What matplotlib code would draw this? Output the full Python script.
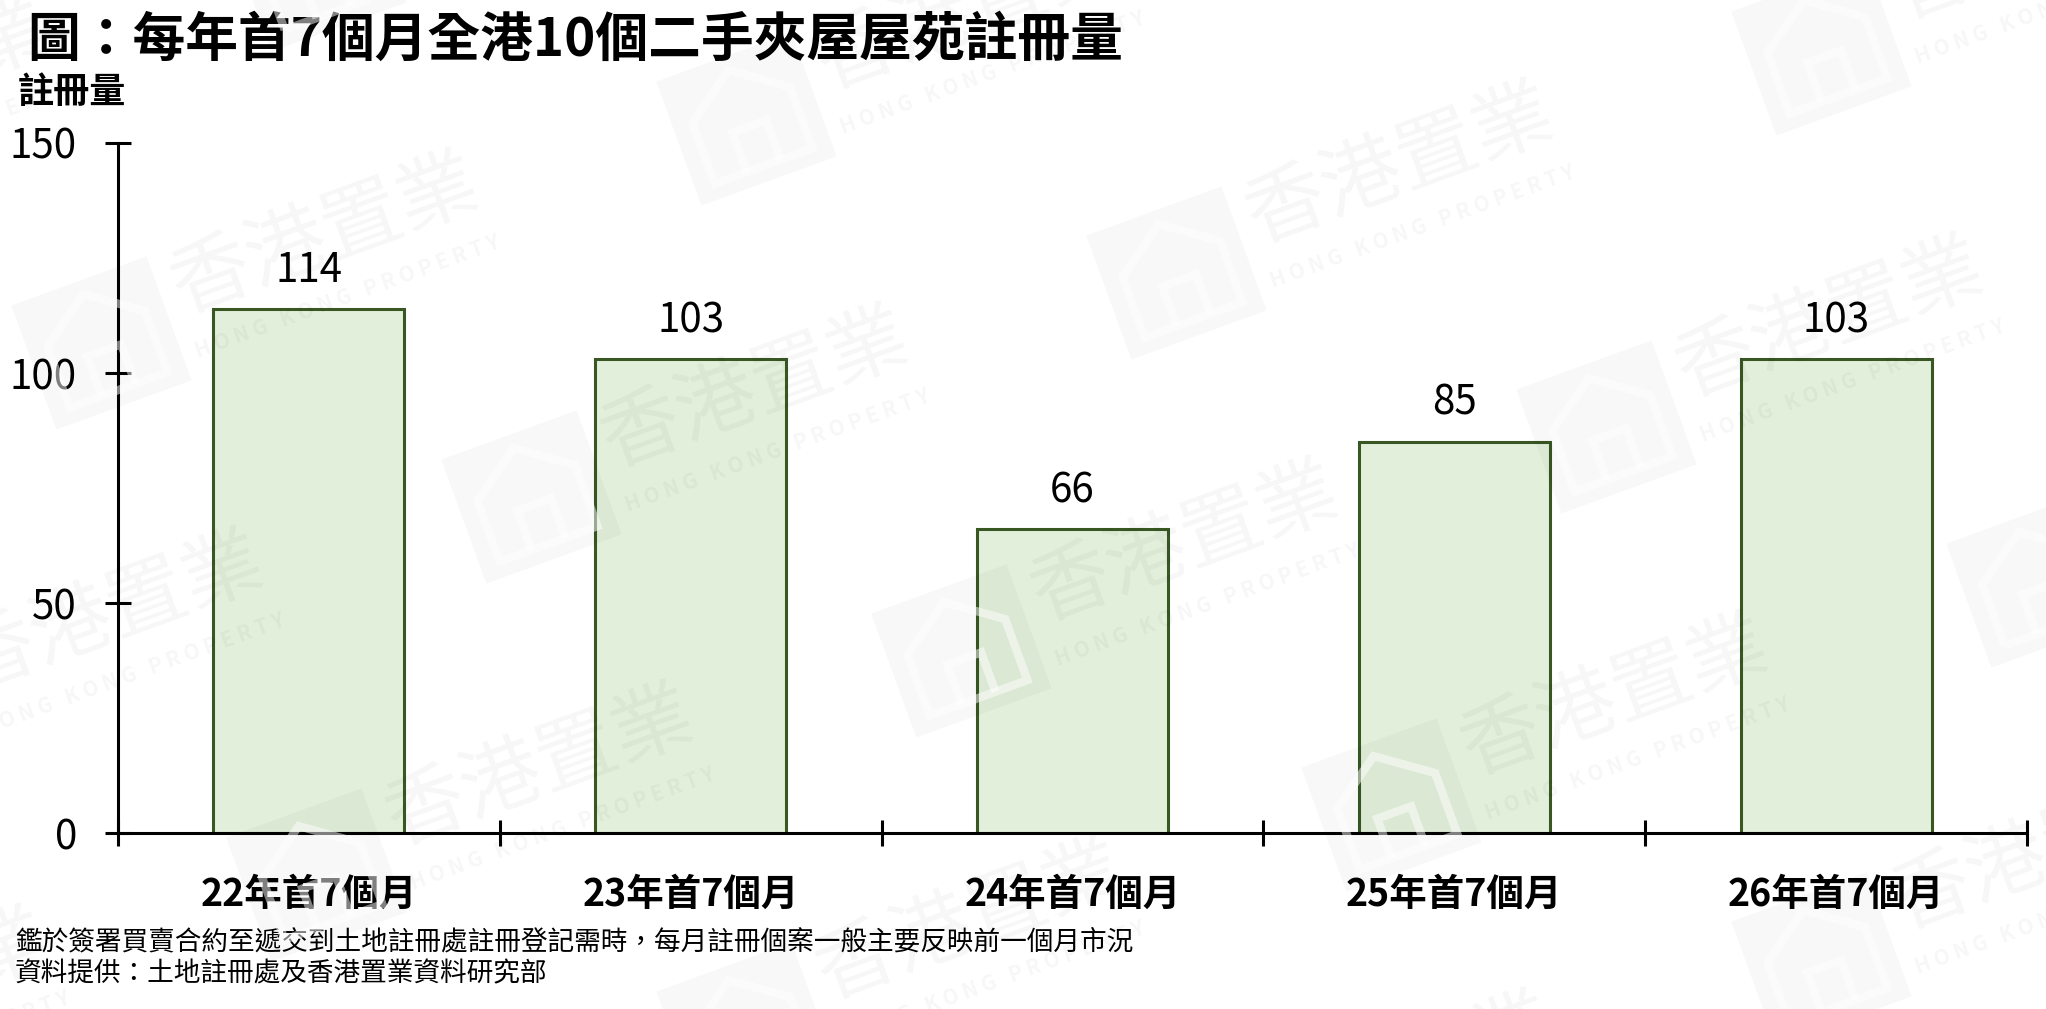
import numpy as np
import matplotlib.pyplot as plt
from matplotlib.patches import Polygon, Rectangle
from matplotlib.transforms import Affine2D

plt.rcParams['font.family'] = ['Noto Sans CJK TC', 'DejaVu Sans']

# 數據
categories = ['22年首7個月', '23年首7個月', '24年首7個月', '25年首7個月', '26年首7個月']
values = [114, 103, 66, 85, 103]
yticks = [0, 50, 100, 150]

title = '圖：每年首7個月全港10個二手夾屋屋苑註冊量'
ylabel = '註冊量'
note1 = '鑑於簽署買賣合約至遞交到土地註冊處註冊登記需時，每月註冊個案一般主要反映前一個月市況'
note2 = '資料提供：土地註冊處及香港置業資料研究部'

W, H = 2046, 1009
fig = plt.figure(figsize=(W / 100, H / 100), dpi=100)
ax = fig.add_axes([118 / W, 1 - 833 / H, (2027 - 118) / W, (833 - 143) / H])
ax.patch.set_alpha(0)

x = np.arange(len(categories))
bars = ax.bar(x, values, width=0.5, color='#E2EFDA', edgecolor='#385723', linewidth=2.2, zorder=2)
ax.bar_label(bars, padding=13, fontsize=29)

ax.set_xlim(-0.5, len(categories) - 0.5)
ax.set_ylim(0, 150)
ax.set_yticks(yticks)

# 類別分界刻度
ax.set_xticks(np.arange(-0.5, len(categories), 1))
ax.set_xticklabels([])
ax.set_xticks(x, minor=True)
ax.set_xticklabels(categories, minor=True, fontsize=27, fontweight='bold')
ax.tick_params(axis='x', which='major', direction='inout', length=19, width=2.2)
ax.tick_params(axis='x', which='minor', length=0, pad=30)
ax.tick_params(axis='y', direction='inout', length=19, width=2.2, pad=20, labelsize=29)

for s in ['top', 'right']:
    ax.spines[s].set_visible(False)
for s in ['left', 'bottom']:
    ax.spines[s].set_linewidth(2.2)

fig.text(27 / W, 1 - 40 / H, title, fontsize=38, fontweight='bold', va='center', ha='left')
fig.text(18 / W, 1 - 93 / H, ylabel, fontsize=26, fontweight='bold', va='center', ha='left')
fig.text(15 / W, 1 - 942 / H, note1, fontsize=19.2, va='center', ha='left')
fig.text(15 / W, 1 - 974 / H, note2, fontsize=19.2, va='center', ha='left')

# 水印
v1 = np.array([430, 154])
v2 = np.array([-215, 378])
anchor = np.array([1400, 165])
for i in range(-5, 6):
    for j in range(-3, 4):
        cx, cy = anchor + i * v1 + j * v2
        if cx < -400 or cx > W + 400 or cy < -250 or cy > H + 250:
            continue
        tr = Affine2D().rotate_deg(20).translate(cx, H - cy)
        fig.text(0, 0, '香港置業', fontsize=58, color='k', alpha=0.035, ha='center', va='center',
                 rotation=20, transform=Affine2D().translate(cx, H - cy), zorder=5)
        fig.text(0, 0, 'H O N G   K O N G   P R O P E R T Y', fontsize=15, fontweight='bold',
                 color='k', alpha=0.035, ha='center', va='center', rotation=20,
                 transform=Affine2D().translate(0, -66).rotate_deg(20).translate(cx, H - cy), zorder=5)
        box = Rectangle((-247 - 72, -25 - 66), 144, 132, facecolor='k', alpha=0.028,
                        edgecolor='none', transform=tr, zorder=5)
        fig.add_artist(box)
        house = Polygon([(-247 - 52, -25 - 50), (-247 - 52, -25 + 15), (-247, -25 + 52),
                         (-247 + 52, -25 + 15), (-247 + 52, -25 - 50)], closed=True,
                        fill=False, edgecolor='white', alpha=0.5, linewidth=6, transform=tr, zorder=5)
        fig.add_artist(house)
        door = Polygon([(-247 - 18, -25 - 50), (-247 - 18, -25 - 8), (-247 + 18, -25 - 8),
                        (-247 + 18, -25 - 50)], closed=False, fill=False, edgecolor='white',
                       alpha=0.5, linewidth=6, transform=tr, zorder=5)
        fig.add_artist(door)

fig.savefig('out.png', dpi=100)
